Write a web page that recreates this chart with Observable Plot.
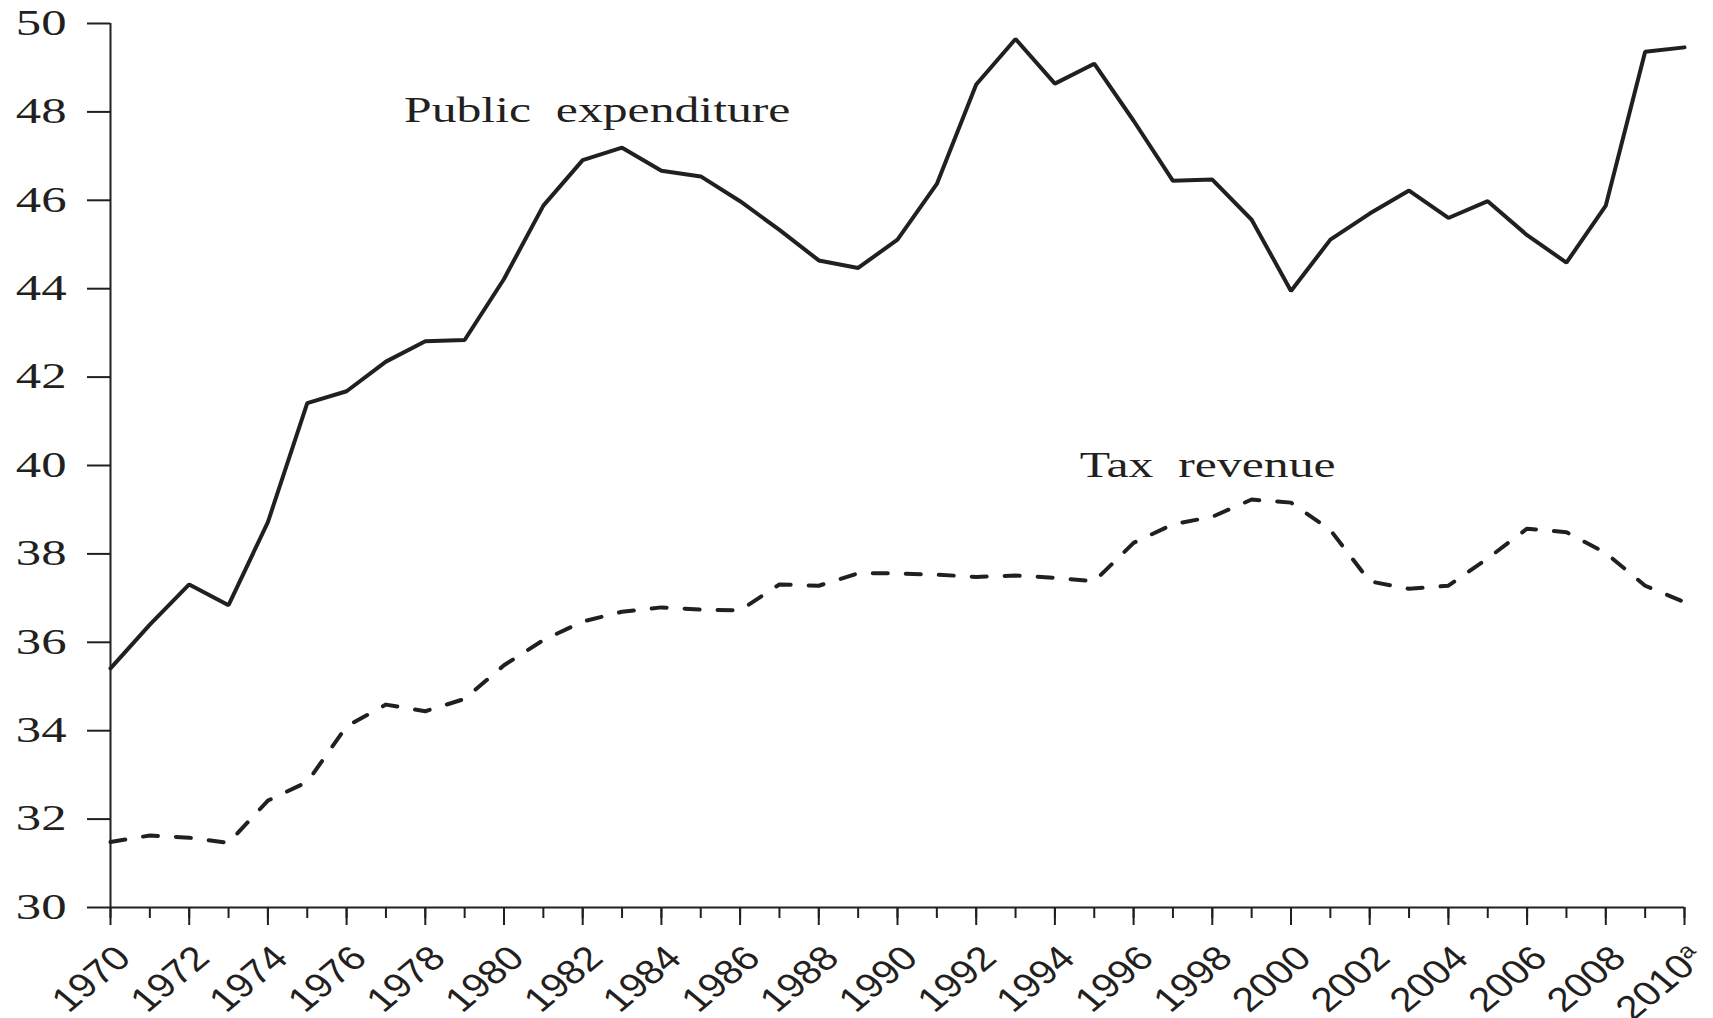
<!DOCTYPE html>
<html>
<head>
<meta charset="utf-8">
<script src="https://cdn.jsdelivr.net/npm/d3@7"></script>
<script src="https://cdn.jsdelivr.net/npm/@observablehq/plot@0.6"></script>
<style>
  html, body { margin: 0; padding: 0; background: #fff; }
  #chart { width: 1713px; height: 1018px; }
</style>
</head>
<body>
<div id="chart"></div>
<script>
// ---- data ----
const years = [1970,1971,1972,1973,1974,1975,1976,1977,1978,1979,1980,1981,1982,1983,1984,1985,1986,1987,1988,1989,1990,1991,1992,1993,1994,1995,1996,1997,1998,1999,2000,2001,2002,2003,2004,2005,2006,2007,2008,2009,2010];
const publicExpenditure = [35.41,36.4,37.31,36.84,38.72,41.41,41.68,42.35,42.81,42.84,44.22,45.88,46.91,47.19,46.67,46.54,45.98,45.33,44.64,44.47,45.11,46.37,48.62,49.65,48.64,49.09,47.80,46.44,46.47,45.56,43.95,45.11,45.70,46.22,45.60,45.98,45.21,44.59,45.88,49.36,49.46];
const taxRevenue = [31.48,31.63,31.58,31.46,32.42,32.84,34.10,34.59,34.44,34.72,35.48,36.05,36.47,36.69,36.79,36.74,36.72,37.31,37.28,37.56,37.56,37.53,37.48,37.51,37.46,37.38,38.25,38.67,38.84,39.23,39.16,38.54,37.38,37.21,37.28,37.90,38.57,38.49,38.02,37.28,36.91];
const yTicks = [30,32,34,36,38,40,42,44,46,48,50];
const xLabelYears = [1970,1972,1974,1976,1978,1980,1982,1984,1986,1988,1990,1992,1994,1996,1998,2000,2002,2004,2006,2008,2010];
const seriesLabels = ["Public\u00a0 expenditure", "Tax\u00a0 revenue"];

const ink = "#231f20";
const rows = years.map((yr, i) => ({year: yr, pub: publicExpenditure[i], tax: taxRevenue[i]}));

const chart = Plot.plot({
  width: 1713,
  height: 1018,
  marginLeft: 110,
  marginRight: 29,
  marginTop: 23,
  marginBottom: 111,
  style: {fontFamily: "'Liberation Serif', serif", background: "white", color: ink},
  x: {type: "linear", domain: [1970, 2010]},
  y: {domain: [30, 50]},
  marks: [
    Plot.axisY({ticks: yTicks, tickSize: 23, tickPadding: 21, fontSize: 35, fontFamily: "'Liberation Serif', serif", stroke: ink, fill: ink, strokeWidth: 2, label: null, tickFormat: d => String(d)}),
    Plot.axisX({ticks: years, tickSize: 11, text: null, stroke: ink, strokeWidth: 2, label: null}),
    Plot.axisX({ticks: xLabelYears, tickSize: 18, text: null, stroke: ink, strokeWidth: 2, label: null}),
    Plot.axisX({ticks: xLabelYears, tickSize: 0, tickPadding: 45, dx: 13, rotate: -45, textAnchor: "end", lineAnchor: "middle", fontSize: 34, fontFamily: "'Liberation Sans', Arial, sans-serif", fill: ink, label: null, tickFormat: d => String(d)}),
    Plot.ruleY([30], {stroke: ink, strokeWidth: 2}),
    Plot.ruleX([1970], {stroke: ink, strokeWidth: 2}),
    Plot.line(rows, {x: "year", y: "pub", stroke: ink, strokeWidth: 4, strokeLinejoin: "miter"}),
    Plot.line(rows, {x: "year", y: "tax", stroke: ink, strokeWidth: 4, strokeDasharray: "15,18", strokeLinecap: "round"}),
    Plot.text([seriesLabels[0]], {x: 1977.46, y: 47.78, text: d => d, textAnchor: "start", lineAnchor: "bottom", fontSize: 35, fill: ink}),
    Plot.text([seriesLabels[1]], {x: 1994.63, y: 39.73, text: d => d, textAnchor: "start", lineAnchor: "bottom", fontSize: 35, fill: ink})
  ]
});

document.getElementById("chart").appendChild(chart);

// horizontal stretch of the lettering, as in the (horizontally stretched) reference
function stretch(sel, s) {
  d3.select(chart).selectAll(sel).each(function() {
    const t = this;
    let tr = t.getAttribute("transform");
    if (tr == null) {
      const x = t.getAttribute("x") || 0, y = t.getAttribute("y") || 0;
      t.removeAttribute("x"); t.removeAttribute("y");
      tr = `translate(${x},${y})`;
    }
    if (tr.includes("rotate")) tr = tr.replace("rotate(", `scale(${s},1) rotate(`);
    else tr = tr + ` scale(${s},1)`;
    t.setAttribute("transform", tr);
  });
}
stretch('g[aria-label="y-axis tick label"] text', 1.45);
stretch('g[aria-label="x-axis tick label"] text', 1.2);
stretch('g[aria-label="text"] text', 1.42);

// superscript "a" after 2010
d3.select(chart).selectAll('g[aria-label="x-axis tick label"] text').each(function() {
  if (this.textContent.trim() === "2010") {
    d3.select(this).append("tspan").attr("font-size", "0.62em").attr("dy", "-0.55em").text("a");
  }
});
</script>
</body>
</html>
